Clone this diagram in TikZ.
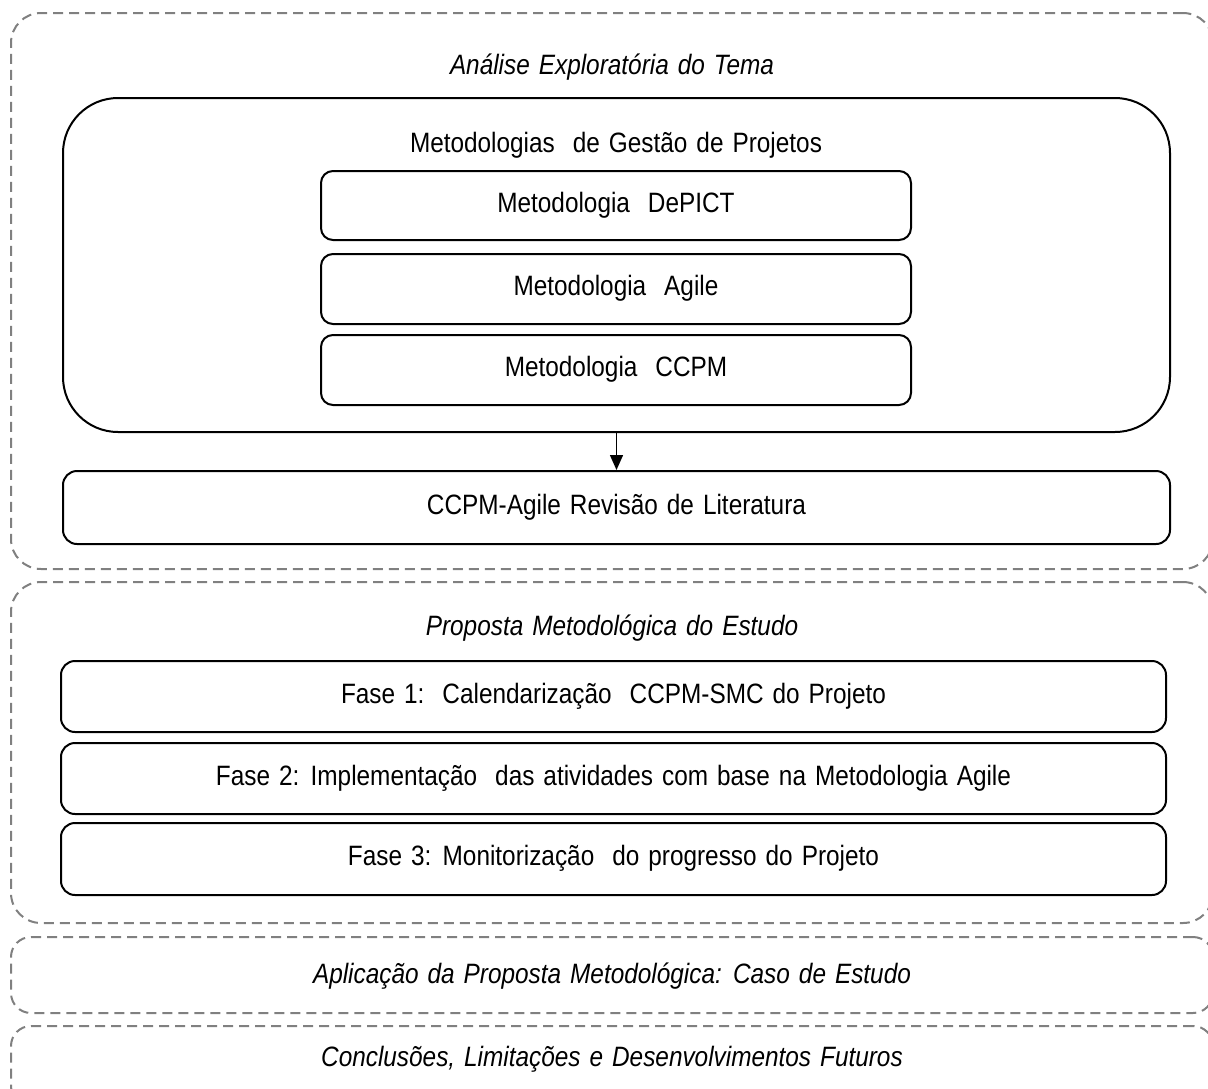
\documentclass[tikz,border=0pt]{standalone}
\usepackage{fontspec}
\setmainfont{Liberation Sans}[FakeStretch=0.87]
\usetikzlibrary{arrows.meta}

\newcommand\widewords{\spaceskip=9pt plus 1pt\relax}

\tikzset{
  lbl/.style={inner sep=0pt, text height=20pt, text depth=0pt,
    font=\fontsize{28}{34}\selectfont,
    execute at begin node=\widewords},
  ilbl/.style={lbl, font=\fontsize{28}{34}\selectfont\itshape},
  stage/.style={draw=black!50, line width=2pt, dash pattern=on 10pt off 6pt,
    rounded corners=30pt, inner sep=0pt},
  group/.style={draw=black, line width=2pt, rounded corners=55pt, inner sep=0pt},
  item/.style={lbl, text depth=7pt, draw=black, line width=2pt,
    rounded corners=12pt, inner sep=0pt},
  link/.style={draw=black, line width=1.4pt, -{Triangle[length=15pt,width=13pt]}}
}

\begin{document}
\begin{tikzpicture}[x=1pt, y=-1pt]
  \useasboundingbox (0,0) rectangle (1208,1088);
  \clip (0,0) rectangle (1208,1088);

  % stage containers (dashed, running off the right edge)
  \node[stage, minimum width=1202pt, minimum height=556pt] (s1) at (612,291) {};
  \node[stage, minimum width=1202pt, minimum height=341pt] (s2) at (612,752.5) {};
  \node[stage, rounded corners=20pt, minimum width=1202pt, minimum height=76pt] (s3) at (612,975) {};
  \node[stage, rounded corners=20pt, minimum width=1202pt, minimum height=80pt] (s4) at (612,1066) {};

  % stage titles
  \node[ilbl] (t1) at (612,64) {Análise Exploratória do Tema};
  \node[ilbl] (t2) at (612,625) {Proposta Metodológica do Estudo};
  \node[ilbl] (t3) at (612,973) {Aplicação da Proposta Metodológica: Caso de Estudo};
  \node[ilbl] (t4) at (612,1056) {Conclusões, Limitações e Desenvolvimentos Futuros};

  % project management methodologies
  \node[group, minimum width=1107pt, minimum height=334pt] (meth) at (616.5,265) {};
  \node[lbl] (mt) at (616,142) {Metodologias\ \ de Gestão de Projetos};
  \node[item, minimum width=590pt, minimum height=69pt] (depict) at (616,205.5) {Metodologia\ \ DePICT};
  \node[item, minimum width=590pt, minimum height=70pt] (agile) at (616,289) {Metodologia\ \ Agile};
  \node[item, minimum width=590pt, minimum height=70pt] (ccpm) at (616,370) {Metodologia\ \ CCPM};

  % literature review
  \node[item, rounded corners=14pt, minimum width=1107pt, minimum height=73pt] (rev) at (616.5,507.5) {CCPM-Agile Revisão de Literatura};
  \draw[link] (meth.south) -- (rev.north);

  % proposed phases
  \node[item, rounded corners=14pt, minimum width=1105pt, minimum height=71pt] (f1) at (613.5,696.5) {Fase 1:\ \ Calendarização\ \ CCPM-SMC do Projeto};
  \node[item, rounded corners=14pt, minimum width=1105pt, minimum height=71pt] (f2) at (613.5,778.5) {Fase 2: Implementação\ \ das atividades com base na Metodologia Agile};
  \node[item, rounded corners=14pt, minimum width=1105pt, minimum height=72pt] (f3) at (613.5,859) {Fase 3: Monitorização\ \ do progresso do Projeto};
\end{tikzpicture}
\end{document}
